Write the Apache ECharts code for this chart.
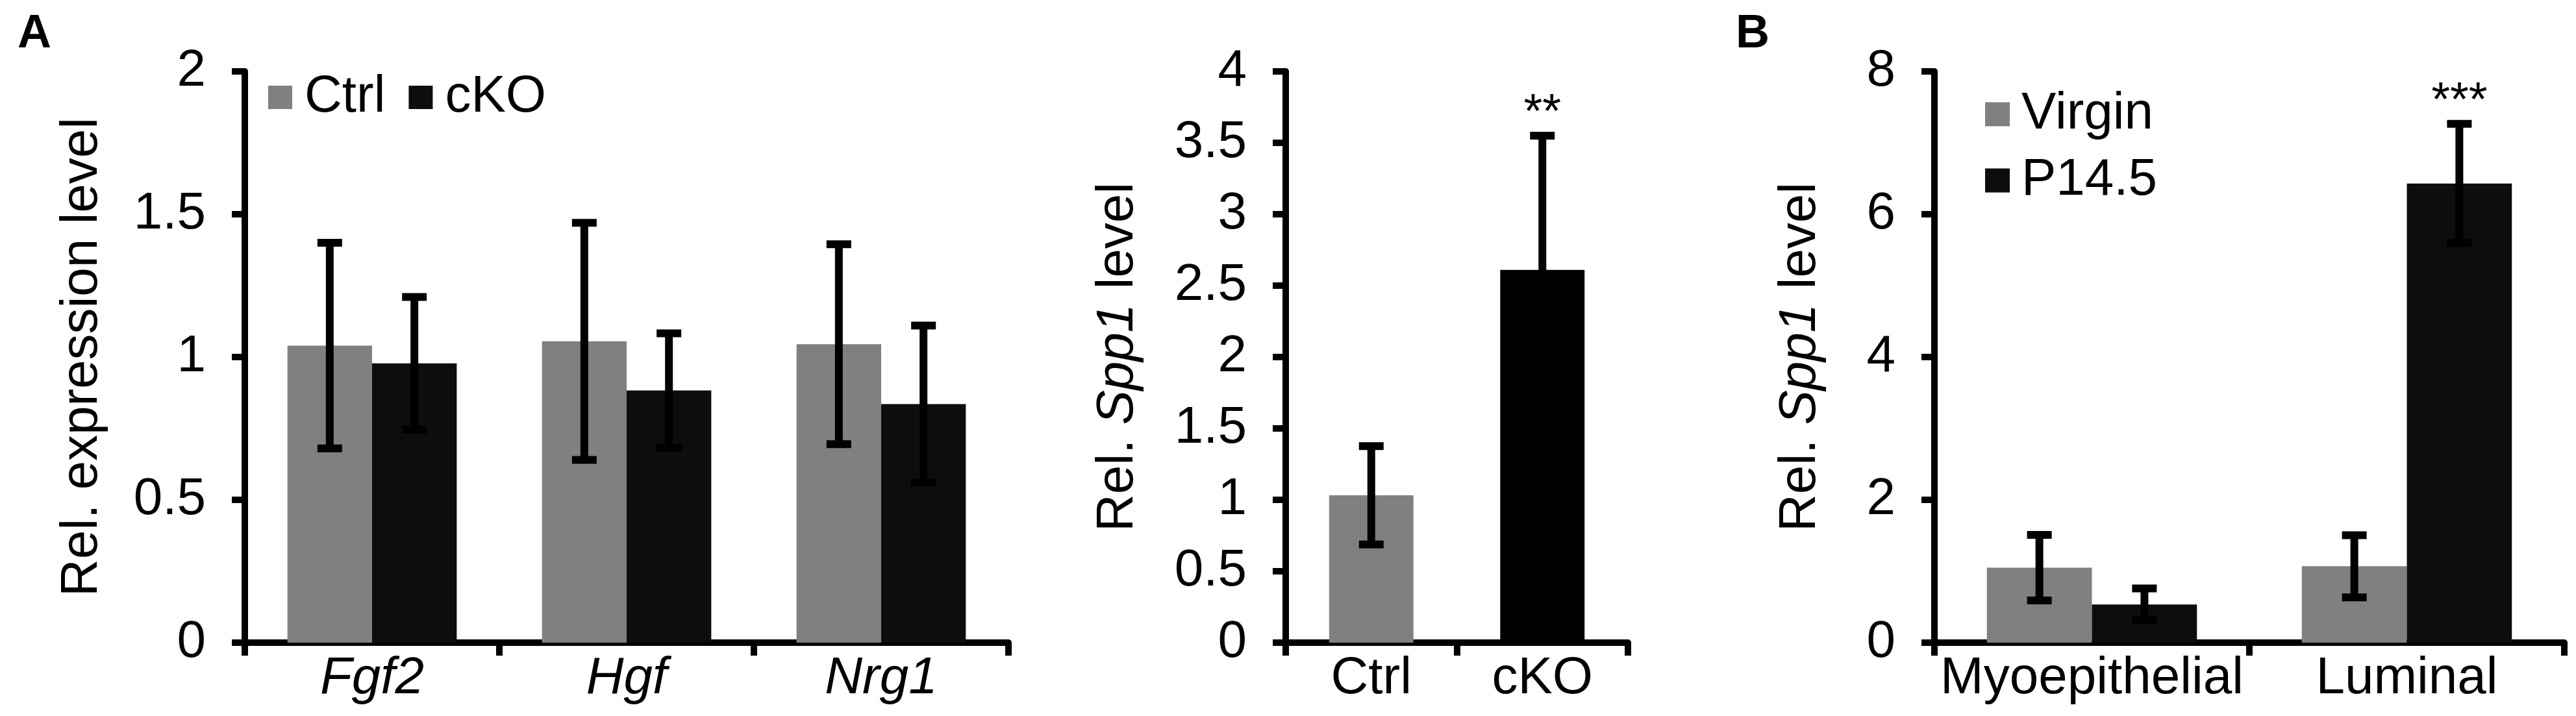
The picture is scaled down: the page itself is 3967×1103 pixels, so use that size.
<!DOCTYPE html>
<html><head><meta charset="utf-8">
<script src="https://cdn.jsdelivr.net/npm/echarts@6/dist/echarts.min.js"></script>
<style>html,body{margin:0;padding:0;background:#fff}#c{width:3967px;height:1103px}</style>
</head><body><div id="c"></div>
<script>
// Panel A (left): growth factor expression
const genesA = ['Fgf2', 'Hgf', 'Nrg1'];
const ctrlA = [1.04, 1.055, 1.045];
const ctrlAErr = [0.36, 0.415, 0.35];
const ckoA = [0.978, 0.883, 0.835];
const ckoAErr = [0.232, 0.2, 0.275];
const ticksA = ['0', '0.5', '1', '1.5', '2'];

// Panel A (middle): Spp1 in Ctrl vs cKO
const groupsM = ['Ctrl', 'cKO'];
const spp1M = [1.032, 2.61];
const spp1MErr = [0.344, 0.94];
const sigM = ['', '**'];

// Panel B: Spp1 by cell type
const cellsB = ['Myoepithelial', 'Luminal'];
const virginB = [1.05, 1.07];
const virginBErr = [0.46, 0.435];
const p145B = [0.535, 6.43];
const p145BErr = [0.225, 0.835];
const sigB = ['', '***'];

const FONT = 'Liberation Sans, Arial, sans-serif';
const FS = 80;
const GRAY = '#808080', BLACK = '#0d0d0d';

function errSeries(name, gridIdx, vals, errs, gapRatio, nBars, idx, sig) {
  return {
    type: 'custom', name: name, xAxisIndex: gridIdx, yAxisIndex: gridIdx, z: 10,
    data: vals.map((v, i) => [i, v, errs[i]]),
    renderItem: function (params, api) {
      const ci = api.value(0), v = api.value(1), e = api.value(2);
      const band = api.size([1, 0])[0];
      const bw = band * (1 - gapRatio) / nBars;
      const off = (idx - (nBars - 1) / 2) * bw;
      const c = api.coord([ci, v]);
      const x = c[0] + off;
      const yHi = api.coord([ci, v + e])[1];
      const yLo = api.coord([ci, v - e])[1];
      const capW = 38, lw = 12;
      const st = { stroke: '#000', lineWidth: lw };
      const children = [
        { type: 'line', shape: { x1: x, y1: yHi, x2: x, y2: yLo }, style: st },
        { type: 'line', shape: { x1: x - capW / 2, y1: yHi, x2: x + capW / 2, y2: yHi }, style: st },
        { type: 'line', shape: { x1: x - capW / 2, y1: yLo, x2: x + capW / 2, y2: yLo }, style: st }
      ];
      const s = sig ? sig[params.dataIndex] : '';
      if (s) {
        children.push({ type: 'text', style: { text: s, x: x, y: yHi + 4, fontSize: 74, fontFamily: FONT, fill: '#000', align: 'center', verticalAlign: 'bottom' } });
      }
      return { type: 'group', children: children };
    }
  };
}

function yAxis(gridIdx, max, interval, name, gap, formatter) {
  return {
    type: 'value', gridIndex: gridIdx, min: 0, max: max, interval: interval,
    name: name, nameLocation: 'middle', nameRotate: 90, nameGap: gap,
    nameTextStyle: { fontSize: FS, fontFamily: FONT, color: '#000', rich: { i: { fontStyle: 'italic', fontSize: FS, fontFamily: FONT } } },
    axisLine: { show: true, lineStyle: { color: '#000', width: 10 } },
    axisTick: { show: true, inside: false, length: 20, lineStyle: { color: '#000', width: 10 } },
    axisLabel: { fontSize: FS, fontFamily: FONT, color: '#000', margin: 60, formatter: formatter },
    splitLine: { show: false }
  };
}
function xAxis(gridIdx, data, italic) {
  return {
    type: 'category', gridIndex: gridIdx, data: data,
    axisLine: { show: true, lineStyle: { color: '#000', width: 10 } },
    axisTick: { show: true, length: 20, lineStyle: { color: '#000', width: 10 } },
    axisLabel: { interval: 0, fontSize: FS, fontFamily: FONT, color: '#000', margin: 16, fontStyle: italic ? 'italic' : 'normal' }
  };
}

const option = {
  animation: false,
  backgroundColor: '#fff',
  title: [
    { text: 'A', left: 22, top: 12, textStyle: { fontSize: 72, fontWeight: 'bold', fontFamily: FONT, color: '#000' } },
    { text: 'B', left: 2668, top: 12, textStyle: { fontSize: 72, fontWeight: 'bold', fontFamily: FONT, color: '#000' } }
  ],
  legend: [
    { data: ['Ctrl', 'cKO'], left: 413, top: 110, padding: 0, itemWidth: 37, itemHeight: 36, itemGap: 36, icon: 'rect',
      textStyle: { fontSize: FS, fontFamily: FONT, color: '#000', padding: [0, 0, 0, 14] } },
    { data: ['Virgin', 'P14.5'], orient: 'vertical', left: 3057, top: 136, padding: 0, itemWidth: 38, itemHeight: 37, itemGap: 22, icon: 'rect',
      textStyle: { fontSize: FS, fontFamily: FONT, color: '#000', padding: [0, 0, 0, 13] } }
  ],
  grid: [
    { left: 377, width: 1176, top: 110, bottom: 113 },
    { left: 1980, width: 527, top: 110, bottom: 113 },
    { left: 2979, width: 970, top: 110, bottom: 113 }
  ],
  xAxis: [xAxis(0, genesA, true), xAxis(1, groupsM, false), xAxis(2, cellsB, false)],
  yAxis: [
    yAxis(0, 2, 0.5, 'Rel. expression level', 210, (v, i) => ticksA[i]),
    yAxis(1, 4, 0.5, 'Rel. {i|Spp1} level', 218),
    yAxis(2, 8, 2, 'Rel. {i|Spp1} level', 166)
  ],
  series: [
    { type: 'bar', name: 'Ctrl', xAxisIndex: 0, yAxisIndex: 0, data: ctrlA, barGap: '0%', barCategoryGap: '33.5%', itemStyle: { color: GRAY } },
    { type: 'bar', name: 'cKO', xAxisIndex: 0, yAxisIndex: 0, data: ckoA, barGap: '0%', barCategoryGap: '33.5%', itemStyle: { color: BLACK } },
    errSeries('errCtrlA', 0, ctrlA, ctrlAErr, 0.335, 2, 0),
    errSeries('errCkoA', 0, ckoA, ckoAErr, 0.335, 2, 1),

    { type: 'bar', name: 'Spp1', xAxisIndex: 1, yAxisIndex: 1, barCategoryGap: '50.7%',
      data: spp1M.map((v, i) => ({ value: v, itemStyle: { color: i === 0 ? GRAY : '#000' } })) },
    errSeries('errM', 1, spp1M, spp1MErr, 0.507, 1, 0, sigM),

    { type: 'bar', name: 'Virgin', xAxisIndex: 2, yAxisIndex: 2, data: virginB, barGap: '0%', barCategoryGap: '33.3%', itemStyle: { color: GRAY } },
    { type: 'bar', name: 'P14.5', xAxisIndex: 2, yAxisIndex: 2, data: p145B, barGap: '0%', barCategoryGap: '33.3%', itemStyle: { color: BLACK } },
    errSeries('errVirgin', 2, virginB, virginBErr, 0.333, 2, 0),
    errSeries('errP145', 2, p145B, p145BErr, 0.333, 2, 1, sigB)
  ]
};
const chart = echarts.init(document.getElementById('c'), null, { renderer: 'canvas' });
chart.setOption(option);
</script></body></html>
